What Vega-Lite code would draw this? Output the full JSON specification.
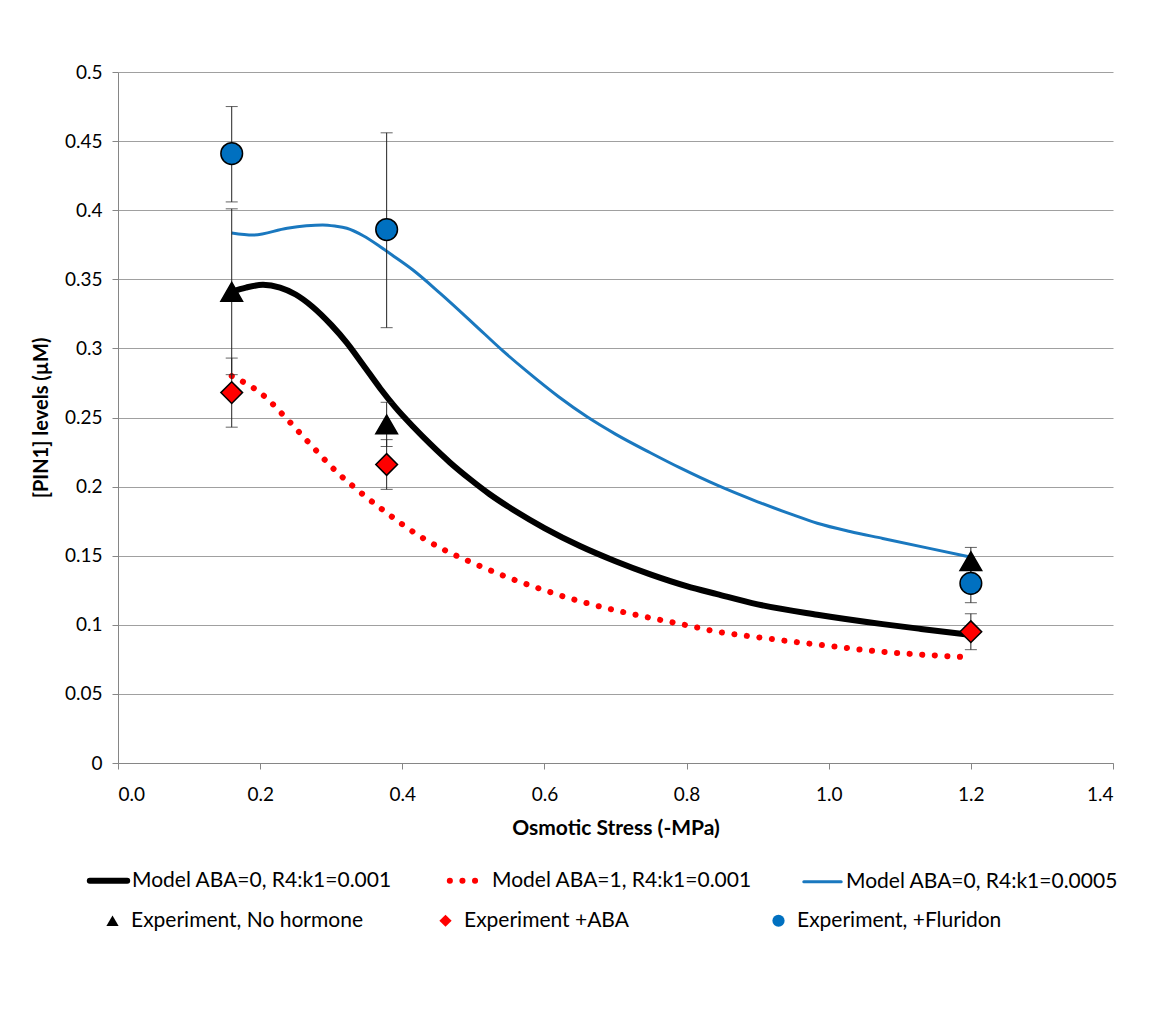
{
  "$schema": "https://vega.github.io/schema/vega-lite/v6.json",
  "width": 995,
  "height": 691,
  "autosize": {"type": "none"},
  "padding": {"left": 118, "top": 72, "right": 58, "bottom": 262},
  "background": "white",
  "config": {
    "view": {"stroke": null},
    "font": "Lato",
    "axis": {"labelFont": "Lato", "titleFont": "Lato", "labelColor": "#000000", "titleColor": "#000000"}
  },
  "datasets": {
    "lines": [
      {"series": "Model ABA=0, R4:k1=0.001", "x": 0.16, "y": 0.341},
      {"series": "Model ABA=0, R4:k1=0.001", "x": 0.18, "y": 0.344},
      {"series": "Model ABA=0, R4:k1=0.001", "x": 0.204, "y": 0.346},
      {"series": "Model ABA=0, R4:k1=0.001", "x": 0.228, "y": 0.344},
      {"series": "Model ABA=0, R4:k1=0.001", "x": 0.25, "y": 0.339},
      {"series": "Model ABA=0, R4:k1=0.001", "x": 0.274, "y": 0.33},
      {"series": "Model ABA=0, R4:k1=0.001", "x": 0.3, "y": 0.317},
      {"series": "Model ABA=0, R4:k1=0.001", "x": 0.322, "y": 0.304},
      {"series": "Model ABA=0, R4:k1=0.001", "x": 0.345, "y": 0.288},
      {"series": "Model ABA=0, R4:k1=0.001", "x": 0.369, "y": 0.271},
      {"series": "Model ABA=0, R4:k1=0.001", "x": 0.39, "y": 0.2575},
      {"series": "Model ABA=0, R4:k1=0.001", "x": 0.415, "y": 0.2435},
      {"series": "Model ABA=0, R4:k1=0.001", "x": 0.44, "y": 0.2305},
      {"series": "Model ABA=0, R4:k1=0.001", "x": 0.467, "y": 0.2175},
      {"series": "Model ABA=0, R4:k1=0.001", "x": 0.495, "y": 0.2055},
      {"series": "Model ABA=0, R4:k1=0.001", "x": 0.523, "y": 0.1945},
      {"series": "Model ABA=0, R4:k1=0.001", "x": 0.56, "y": 0.182},
      {"series": "Model ABA=0, R4:k1=0.001", "x": 0.6, "y": 0.17},
      {"series": "Model ABA=0, R4:k1=0.001", "x": 0.65, "y": 0.157},
      {"series": "Model ABA=0, R4:k1=0.001", "x": 0.7, "y": 0.146},
      {"series": "Model ABA=0, R4:k1=0.001", "x": 0.749, "y": 0.1365},
      {"series": "Model ABA=0, R4:k1=0.001", "x": 0.8, "y": 0.128},
      {"series": "Model ABA=0, R4:k1=0.001", "x": 0.843, "y": 0.1222},
      {"series": "Model ABA=0, R4:k1=0.001", "x": 0.9, "y": 0.1148},
      {"series": "Model ABA=0, R4:k1=0.001", "x": 0.984, "y": 0.1073},
      {"series": "Model ABA=0, R4:k1=0.001", "x": 1.076, "y": 0.1005},
      {"series": "Model ABA=0, R4:k1=0.001", "x": 1.13, "y": 0.097},
      {"series": "Model ABA=0, R4:k1=0.001", "x": 1.195, "y": 0.093},
      {"series": "Model ABA=1, R4:k1=0.001", "x": 0.16, "y": 0.28},
      {"series": "Model ABA=1, R4:k1=0.001", "x": 0.207, "y": 0.265},
      {"series": "Model ABA=1, R4:k1=0.001", "x": 0.232, "y": 0.252},
      {"series": "Model ABA=1, R4:k1=0.001", "x": 0.27, "y": 0.231},
      {"series": "Model ABA=1, R4:k1=0.001", "x": 0.308, "y": 0.2105},
      {"series": "Model ABA=1, R4:k1=0.001", "x": 0.336, "y": 0.198},
      {"series": "Model ABA=1, R4:k1=0.001", "x": 0.378, "y": 0.181},
      {"series": "Model ABA=1, R4:k1=0.001", "x": 0.425, "y": 0.164},
      {"series": "Model ABA=1, R4:k1=0.001", "x": 0.456, "y": 0.155},
      {"series": "Model ABA=1, R4:k1=0.001", "x": 0.5, "y": 0.1446},
      {"series": "Model ABA=1, R4:k1=0.001", "x": 0.55, "y": 0.134},
      {"series": "Model ABA=1, R4:k1=0.001", "x": 0.6, "y": 0.125},
      {"series": "Model ABA=1, R4:k1=0.001", "x": 0.65, "y": 0.117},
      {"series": "Model ABA=1, R4:k1=0.001", "x": 0.7, "y": 0.1105},
      {"series": "Model ABA=1, R4:k1=0.001", "x": 0.749, "y": 0.105},
      {"series": "Model ABA=1, R4:k1=0.001", "x": 0.8, "y": 0.0997},
      {"series": "Model ABA=1, R4:k1=0.001", "x": 0.843, "y": 0.095},
      {"series": "Model ABA=1, R4:k1=0.001", "x": 0.9, "y": 0.091},
      {"series": "Model ABA=1, R4:k1=0.001", "x": 0.984, "y": 0.0857},
      {"series": "Model ABA=1, R4:k1=0.001", "x": 1.076, "y": 0.0805},
      {"series": "Model ABA=1, R4:k1=0.001", "x": 1.19, "y": 0.0767},
      {"series": "Model ABA=0, R4:k1=0.0005", "x": 0.16, "y": 0.3835},
      {"series": "Model ABA=0, R4:k1=0.0005", "x": 0.19, "y": 0.382},
      {"series": "Model ABA=0, R4:k1=0.0005", "x": 0.238, "y": 0.387},
      {"series": "Model ABA=0, R4:k1=0.0005", "x": 0.265, "y": 0.3887},
      {"series": "Model ABA=0, R4:k1=0.0005", "x": 0.288, "y": 0.3893},
      {"series": "Model ABA=0, R4:k1=0.0005", "x": 0.305, "y": 0.3885},
      {"series": "Model ABA=0, R4:k1=0.0005", "x": 0.322, "y": 0.3869},
      {"series": "Model ABA=0, R4:k1=0.0005", "x": 0.345, "y": 0.3815},
      {"series": "Model ABA=0, R4:k1=0.0005", "x": 0.369, "y": 0.3736},
      {"series": "Model ABA=0, R4:k1=0.0005", "x": 0.39, "y": 0.366},
      {"series": "Model ABA=0, R4:k1=0.0005", "x": 0.415, "y": 0.3567},
      {"series": "Model ABA=0, R4:k1=0.0005", "x": 0.453, "y": 0.34},
      {"series": "Model ABA=0, R4:k1=0.0005", "x": 0.5, "y": 0.318},
      {"series": "Model ABA=0, R4:k1=0.0005", "x": 0.542, "y": 0.298},
      {"series": "Model ABA=0, R4:k1=0.0005", "x": 0.575, "y": 0.2835},
      {"series": "Model ABA=0, R4:k1=0.0005", "x": 0.62, "y": 0.265},
      {"series": "Model ABA=0, R4:k1=0.0005", "x": 0.66, "y": 0.2505},
      {"series": "Model ABA=0, R4:k1=0.0005", "x": 0.7, "y": 0.238},
      {"series": "Model ABA=0, R4:k1=0.0005", "x": 0.749, "y": 0.2245},
      {"series": "Model ABA=0, R4:k1=0.0005", "x": 0.791, "y": 0.2135},
      {"series": "Model ABA=0, R4:k1=0.0005", "x": 0.843, "y": 0.201},
      {"series": "Model ABA=0, R4:k1=0.0005", "x": 0.9, "y": 0.189},
      {"series": "Model ABA=0, R4:k1=0.0005", "x": 0.95, "y": 0.1795},
      {"series": "Model ABA=0, R4:k1=0.0005", "x": 0.984, "y": 0.1735},
      {"series": "Model ABA=0, R4:k1=0.0005", "x": 1.03, "y": 0.1675},
      {"series": "Model ABA=0, R4:k1=0.0005", "x": 1.076, "y": 0.1625},
      {"series": "Model ABA=0, R4:k1=0.0005", "x": 1.14, "y": 0.1555},
      {"series": "Model ABA=0, R4:k1=0.0005", "x": 1.199, "y": 0.149}
    ],
    "pts": [
      {"exp": "Experiment, No hormone", "x": 0.16, "y": 0.341, "lo": 0.281, "hi": 0.401},
      {"exp": "Experiment, No hormone", "x": 0.378, "y": 0.245, "lo": 0.229, "hi": 0.261},
      {"exp": "Experiment, No hormone", "x": 1.2, "y": 0.146, "lo": 0.136, "hi": 0.156},
      {"exp": "Experiment +ABA", "x": 0.16, "y": 0.268, "lo": 0.243, "hi": 0.293},
      {"exp": "Experiment +ABA", "x": 0.378, "y": 0.216, "lo": 0.198, "hi": 0.234},
      {"exp": "Experiment +ABA", "x": 1.2, "y": 0.095, "lo": 0.082, "hi": 0.108},
      {"exp": "Experiment, +Fluridon", "x": 0.16, "y": 0.441, "lo": 0.406, "hi": 0.475},
      {"exp": "Experiment, +Fluridon", "x": 0.378, "y": 0.386, "lo": 0.315, "hi": 0.456},
      {"exp": "Experiment, +Fluridon", "x": 1.2, "y": 0.13, "lo": 0.116, "hi": 0.144}
    ]
  },
  "encoding": {
    "x": {
      "field": "x", "type": "quantitative",
      "scale": {"domain": [0, 1.4], "nice": false, "zero": false},
      "axis": {
        "title": "Osmotic Stress (-MPa)", "values": [0, 0.2, 0.4, 0.6, 0.8, 1.0, 1.2, 1.4], "format": ".1f",
        "grid": false, "domainColor": "#868686", "tickColor": "#868686", "tickSize": 6,
        "labelFontSize": 19, "labelPadding": 16, "titleFontSize": 21, "titleFontWeight": "bold", "titlePadding": 13
      }
    },
    "y": {
      "field": "y", "type": "quantitative",
      "scale": {"domain": [0, 0.5], "nice": false},
      "axis": {
        "title": "[PIN1] levels (µM)", "values": [0, 0.05, 0.1, 0.15, 0.2, 0.25, 0.3, 0.35, 0.4, 0.45, 0.5], "format": "~g",
        "grid": true, "gridColor": "#a0a0a0", "gridWidth": 1, "domainColor": "#868686", "tickColor": "#868686", "tickSize": 6,
        "labelFontSize": 19, "labelPadding": 10, "titleFontSize": 20, "titleFontWeight": "bold", "titlePadding": 13
      }
    }
  },
  "layer": [
    {
      "data": {"name": "lines"},
      "transform": [{"filter": "datum.series === 'Model ABA=0, R4:k1=0.001'"}],
      "mark": {"type": "line", "interpolate": "monotone", "strokeWidth": 6, "strokeCap": "round", "strokeJoin": "round"},
      "encoding": {
        "stroke": {
          "field": "series", "type": "nominal",
          "scale": {"domain": ["Model ABA=0, R4:k1=0.001", "Model ABA=1, R4:k1=0.001", "Model ABA=0, R4:k1=0.0005"], "range": ["#000000", "#ff0000", "#1a78bf"]},
          "legend": {
            "orient": "none", "legendX": -20, "legendY": 798, "direction": "horizontal", "columns": 3,
            "title": null, "symbolType": "stroke", "symbolSize": 1400, "labelFontSize": 21, "labelLimit": 0,
            "columnPadding": 45, "labelOffset": 13, "padding": 0, "gridAlign": "each", "labelColor": "#000000",
            "encode": {
              "symbols": {
                "update": {
                  "strokeWidth": {"signal": "datum.value === 'Model ABA=0, R4:k1=0.0005' ? 3 : 6"},
                  "strokeDash": {"signal": "datum.value === 'Model ABA=1, R4:k1=0.001' ? [0.1, 12.5] : [1, 0]"},
                  "strokeCap": {"value": "round"}
                }
              }
            }
          }
        }
      }
    },
    {
      "data": {"name": "lines"},
      "transform": [{"filter": "datum.series === 'Model ABA=1, R4:k1=0.001'"}],
      "mark": {"type": "line", "interpolate": "monotone", "strokeWidth": 6, "strokeCap": "round", "strokeDash": [0.1, 12.5]},
      "encoding": {"stroke": {"field": "series", "type": "nominal"}}
    },
    {
      "data": {"name": "lines"},
      "transform": [{"filter": "datum.series === 'Model ABA=0, R4:k1=0.0005'"}],
      "mark": {"type": "line", "interpolate": "monotone", "strokeWidth": 3},
      "encoding": {"stroke": {"field": "series", "type": "nominal"}}
    },
    {
      "data": {"name": "pts"},
      "mark": {"type": "rule", "color": "#222222", "strokeWidth": 1},
      "encoding": {"y": {"field": "lo", "type": "quantitative"}, "y2": {"field": "hi"}}
    },
    {
      "data": {"name": "pts"},
      "mark": {"type": "tick", "orient": "horizontal", "color": "#222222", "size": 12, "thickness": 1},
      "encoding": {"y": {"field": "lo", "type": "quantitative"}}
    },
    {
      "data": {"name": "pts"},
      "mark": {"type": "tick", "orient": "horizontal", "color": "#222222", "size": 12, "thickness": 1},
      "encoding": {"y": {"field": "hi", "type": "quantitative"}}
    },
    {
      "data": {"name": "pts"},
      "mark": {"type": "point", "filled": true, "stroke": "#000000", "strokeWidth": 1.5, "size": 470, "opacity": 1},
      "encoding": {
        "fill": {
          "field": "exp", "type": "nominal",
          "scale": {"domain": ["Experiment, No hormone", "Experiment +ABA", "Experiment, +Fluridon"], "range": ["#000000", "#ff0000", "#0070c0"]},
          "legend": {
            "orient": "none", "legendX": -16, "legendY": 838, "direction": "horizontal", "columns": 3,
            "title": null, "symbolSize": 150, "labelFontSize": 21, "labelLimit": 0, "symbolStrokeWidth": 0,
            "columnPadding": 72, "labelOffset": 8, "padding": 0, "gridAlign": "all", "labelColor": "#000000"
          }
        },
        "shape": {
          "field": "exp", "type": "nominal",
          "scale": {"domain": ["Experiment, No hormone", "Experiment +ABA", "Experiment, +Fluridon"], "range": ["triangle-up", "diamond", "circle"]}
        }
      }
    }
  ]
}
